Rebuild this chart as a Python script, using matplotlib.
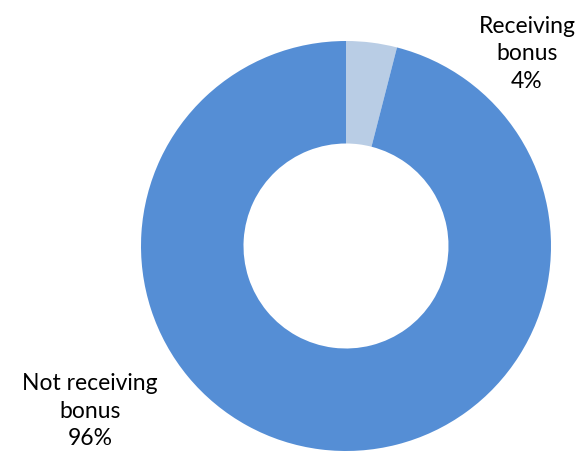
import matplotlib.pyplot as plt

labels = ['Receiving\nbonus\n4%', 'Not receiving\nbonus\n96%']
values = [4, 96]
colors = ['#B9CDE5', '#558ED5']

plt.rcParams['font.family'] = ['Lato', 'DejaVu Sans']

fig = plt.figure(figsize=(5.75, 4.55), dpi=100)
ax = fig.add_axes([141 / 575, 4 / 455, 410 / 575, 410 / 455])

ax.pie(values, colors=colors, startangle=90, counterclock=False,
       radius=1, wedgeprops=dict(width=0.5, edgecolor='none'))
ax.set_xlim(-1, 1)
ax.set_ylim(-1, 1)
ax.set_aspect('equal')
ax.axis('off')

# label positions in pixels (centre of each text block)
fig.text(527 / 575, 1 - 54 / 455, labels[0], ha='center', va='center',
         fontsize=16.5, linespacing=1.4, color='black')
fig.text(90 / 575, 1 - 411 / 455, labels[1], ha='center', va='center',
         fontsize=16.5, linespacing=1.4, color='black')

fig.savefig('out.png', dpi=100)
